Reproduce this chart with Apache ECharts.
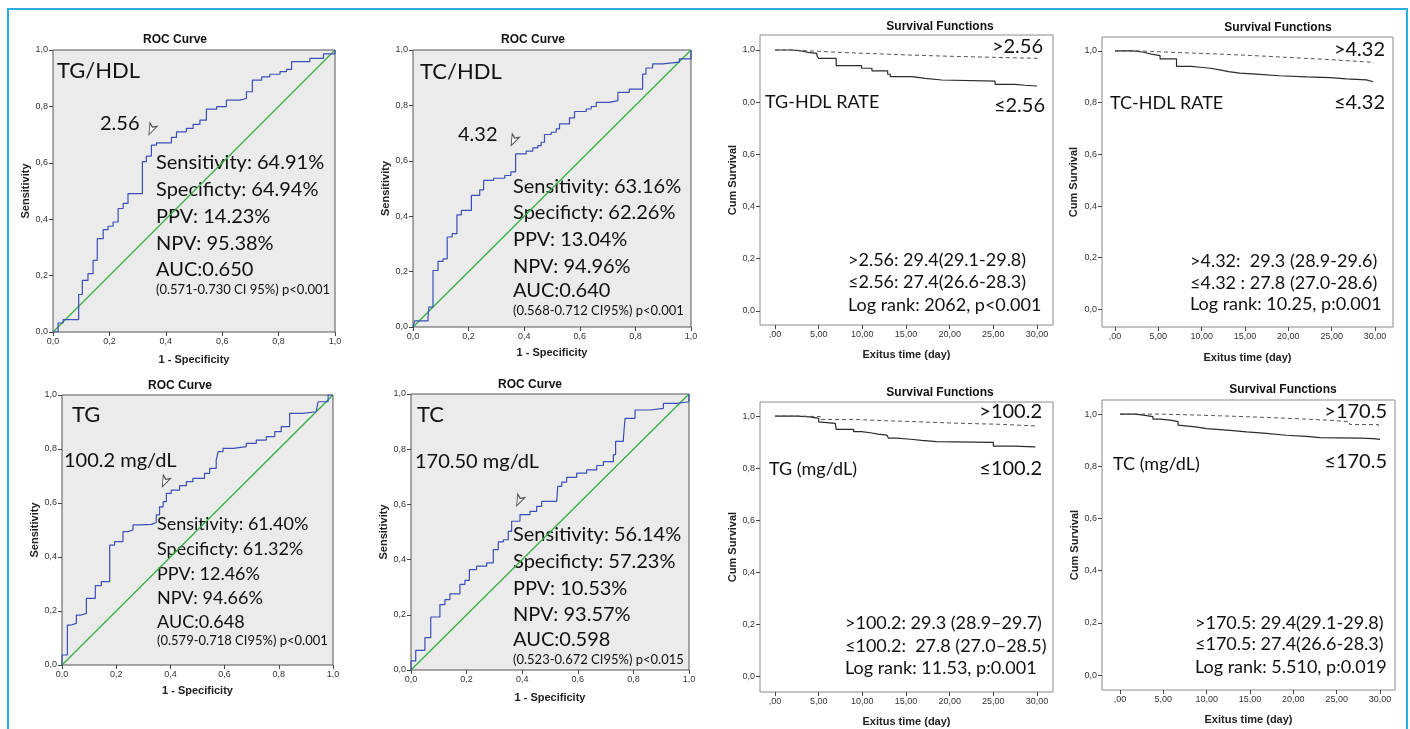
<!DOCTYPE html>
<html>
<head>
<meta charset="utf-8">
<script src="https://cdn.jsdelivr.net/npm/echarts@6/dist/echarts.min.js"></script>
<style>
html,body{margin:0;padding:0;background:#fff;}
#chart{width:1410px;height:729px;}
</style>
</head>
<body>
<div id="chart"></div>
<script>
// tick values / labels (SPSS style, decimal comma)
const rocTicks = [0, 0.2, 0.4, 0.6, 0.8, 1];
const rocTickLabels = ['0,0', '0,2', '0,4', '0,6', '0,8', '1,0'];
const survXTicks = [0, 5, 10, 15, 20, 25, 30];
const survXLabels = [',00', '5,00', '10,00', '15,00', '20,00', '25,00', '30,00'];
const survYTicks = [0, 0.2, 0.4, 0.6, 0.8, 1];
const survYLabels = ['0,0', '0,2', '0,4', '0,6', '0,8', '1,0'];
const survYLabelsTgHdl = ['0,0', '0,2', '0,4', '0,6', '0,0', '1,0']; // printed this way in the source

// ROC curves: 1 - specificity (x) and sensitivity (y)
const rocTgHdlX = [0, 0.018, 0.036, 0.091, 0.104, 0.124, 0.142, 0.157, 0.178, 0.195, 0.213, 0.231, 0.249, 0.266, 0.317, 0.331, 0.349, 0.367, 0.42, 0.438, 0.473, 0.497, 0.521, 0.544, 0.58, 0.615, 0.663, 0.686, 0.707, 0.74, 0.769, 0.805, 0.828, 0.846, 0.911, 0.959, 1];
const rocTgHdlY = [0, 0.032, 0.044, 0.133, 0.183, 0.207, 0.254, 0.331, 0.363, 0.375, 0.39, 0.438, 0.456, 0.491, 0.604, 0.624, 0.663, 0.671, 0.69, 0.71, 0.722, 0.736, 0.751, 0.79, 0.799, 0.822, 0.828, 0.852, 0.893, 0.905, 0.914, 0.923, 0.931, 0.959, 0.97, 0.986, 1];
const rocTcHdlX = [0, 0.006, 0.054, 0.057, 0.072, 0.09, 0.108, 0.123, 0.141, 0.158, 0.174, 0.21, 0.24, 0.254, 0.29, 0.33, 0.352, 0.369, 0.407, 0.431, 0.449, 0.461, 0.473, 0.497, 0.515, 0.527, 0.563, 0.581, 0.623, 0.641, 0.659, 0.707, 0.737, 0.778, 0.826, 0.838, 0.862, 0.898, 0.958, 1, 1];
const rocTcHdlY = [0, 0.022, 0.034, 0.072, 0.204, 0.237, 0.246, 0.325, 0.337, 0.405, 0.421, 0.475, 0.495, 0.529, 0.537, 0.547, 0.56, 0.625, 0.635, 0.647, 0.655, 0.667, 0.695, 0.703, 0.715, 0.733, 0.755, 0.778, 0.787, 0.796, 0.811, 0.817, 0.847, 0.859, 0.913, 0.935, 0.95, 0.956, 0.968, 0.988, 1];
const rocTgX = [0, 0, 0.02, 0.034, 0.053, 0.071, 0.09, 0.123, 0.145, 0.176, 0.194, 0.225, 0.244, 0.262, 0.287, 0.33, 0.348, 0.36, 0.373, 0.385, 0.403, 0.434, 0.459, 0.483, 0.526, 0.545, 0.569, 0.576, 0.594, 0.632, 0.68, 0.717, 0.754, 0.785, 0.809, 0.84, 0.889, 0.938, 0.945, 0.982, 1];
const rocTgY = [0, 0.037, 0.148, 0.154, 0.185, 0.191, 0.247, 0.294, 0.309, 0.444, 0.457, 0.494, 0.5, 0.519, 0.521, 0.528, 0.556, 0.586, 0.605, 0.636, 0.648, 0.664, 0.679, 0.691, 0.71, 0.728, 0.759, 0.79, 0.802, 0.809, 0.821, 0.833, 0.846, 0.864, 0.883, 0.932, 0.938, 0.944, 0.975, 1, 1];
const rocTcX = [0, 0, 0.017, 0.05, 0.071, 0.104, 0.122, 0.14, 0.176, 0.194, 0.21, 0.236, 0.272, 0.296, 0.314, 0.332, 0.35, 0.362, 0.392, 0.428, 0.452, 0.47, 0.524, 0.528, 0.542, 0.56, 0.596, 0.632, 0.668, 0.692, 0.728, 0.736, 0.764, 0.77, 0.806, 0.86, 0.908, 0.956, 1, 1];
const rocTcY = [0, 0.033, 0.071, 0.117, 0.192, 0.237, 0.255, 0.276, 0.31, 0.325, 0.364, 0.376, 0.388, 0.436, 0.464, 0.472, 0.502, 0.539, 0.563, 0.575, 0.593, 0.611, 0.617, 0.665, 0.681, 0.698, 0.713, 0.725, 0.741, 0.755, 0.78, 0.828, 0.84, 0.912, 0.942, 0.948, 0.966, 0.972, 0.982, 1];
// cut-off markers [x, y]
const cutTgHdl = [0.34, 0.70];
const cutTcHdl = [0.353, 0.655];
const cutTg = [0.37, 0.66];
const cutTc = [0.38, 0.595];

// Kaplan-Meier: time (day) and cumulative survival
const kmTgHdlLowT = [0, 1.9, 2.9, 3.8, 4.8, 5.0, 7.0, 9.9, 11.1, 12.9, 13.2, 15.7, 17.2, 19.1, 25.2, 27.5, 28.6, 30];
const kmTgHdlLowS = [1, 0.997, 0.991, 0.987, 0.977, 0.968, 0.94, 0.93, 0.92, 0.907, 0.898, 0.891, 0.885, 0.881, 0.868, 0.865, 0.862, 0.862];
const kmTgHdlHighT = [0, 2.2, 3, 5, 8, 12, 16, 20, 25, 30];
const kmTgHdlHighS = [1, 0.998, 0.995, 0.99, 0.985, 0.98, 0.976, 0.972, 0.968, 0.964];
const kmTcHdlLowT = [0, 2.1, 3.3, 4.2, 5.2, 7.1, 8.8, 9.8, 11, 12.1, 13.1, 14.4, 16.3, 19, 22.1, 24.8, 26.7, 29, 29.8];
const kmTcHdlLowS = [1, 0.995, 0.988, 0.982, 0.969, 0.94, 0.937, 0.933, 0.927, 0.92, 0.914, 0.91, 0.904, 0.9, 0.897, 0.892, 0.888, 0.881, 0.881];
const kmTcHdlHighT = [0, 3, 5, 8, 12, 16, 20, 24, 27, 29.8];
const kmTcHdlHighS = [1, 0.997, 0.993, 0.988, 0.982, 0.975, 0.968, 0.962, 0.956, 0.952];
const kmTgLowT = [0, 2.5, 4.0, 5.0, 5.2, 6.9, 7.0, 9.0, 9.9, 10.9, 11.8, 12.8, 13.0, 13.9, 15.5, 16.8, 18.5, 25.0, 27.3, 29.8];
const kmTgLowS = [1, 0.997, 0.991, 0.978, 0.972, 0.966, 0.949, 0.94, 0.936, 0.931, 0.927, 0.921, 0.915, 0.911, 0.907, 0.902, 0.899, 0.885, 0.882, 0.88];
const kmTgHighT = [0, 2.5, 5.2, 9, 12.8, 16.5, 20.4, 26.2, 29.8];
const kmTgHighS = [1, 0.998, 0.987, 0.982, 0.978, 0.973, 0.968, 0.962, 0.953];
const kmTcLowT = [0, 1.7, 2.7, 3.8, 4.6, 5.8, 6.7, 6.9, 8.7, 10, 12.7, 14.6, 16.9, 19.2, 21.5, 23.1, 27.7, 29.2, 30];
const kmTcLowS = [1, 0.996, 0.99, 0.981, 0.977, 0.971, 0.958, 0.951, 0.944, 0.938, 0.932, 0.926, 0.919, 0.915, 0.91, 0.908, 0.906, 0.903, 0.903];
const kmTcHighT = [0, 1.9, 4.6, 9.2, 14.6, 20, 23.8, 26.5, 29.8];
const kmTcHighS = [1, 1, 0.996, 0.99, 0.983, 0.977, 0.971, 0.96, 0.941];

// annotation texts
const rocStatsTgHdl = ['Sensitivity: 64.91%', 'Specificty: 64.94%', 'PPV: 14.23%', 'NPV: 95.38%', 'AUC:0.650', '(0.571-0.730 CI 95%) p<0.001'];
const rocStatsTcHdl = ['Sensitivity: 63.16%', 'Specificty: 62.26%', 'PPV: 13.04%', 'NPV: 94.96%', 'AUC:0.640', '(0.568-0.712 CI95%) p<0.001'];
const rocStatsTg = ['Sensitivity: 61.40%', 'Specificty: 61.32%', 'PPV: 12.46%', 'NPV: 94.66%', 'AUC:0.648', '(0.579-0.718 CI95%) p<0.001'];
const rocStatsTc = ['Sensitivity: 56.14%', 'Specificty: 57.23%', 'PPV: 10.53%', 'NPV: 93.57%', 'AUC:0.598', '(0.523-0.672 CI95%) p<0.015'];
const kmStatsTgHdl = ['>2.56: 29.4(29.1-29.8)', '\u22642.56: 27.4(26.6-28.3)', 'Log rank: 2062, p<0.001'];
const kmStatsTcHdl = ['>4.32:  29.3 (28.9-29.6)', '\u22644.32 : 27.8 (27.0-28.6)', 'Log rank: 10.25, p:0.001'];
const kmStatsTg = ['>100.2: 29.3 (28.9\u201329.7)', '\u2264100.2:  27.8 (27.0\u201328.5)', 'Log rank: 11.53, p:0.001'];
const kmStatsTc = ['>170.5: 29.4(29.1-29.8)', '\u2264170.5: 27.4(26.6-28.3)', 'Log rank: 5.510, p:0.019'];

const zip = (a, b) => a.map((v, i) => [v, b[i]]);
const lab = (ticks, labels) => v => {
  const i = ticks.findIndex(t => Math.abs(t - v) < 1e-6);
  return i < 0 ? '' : labels[i];
};

const ANN = 'Lato, "Open Sans", sans-serif';
const SPSS = '"Liberation Sans", Arial, sans-serif';

const panels = [
  { kind: 'roc', grid: { left: 53, top: 50, width: 282, height: 282 }, xGap: 22, yGap: 20, title: [175, 40],
    x: rocTgHdlX, y: rocTgHdlY, cut: cutTgHdl,
    name: ['TG/HDL', 57, 71], cutLabel: ['2.56', 100, 124], stats: rocStatsTgHdl, sx: 156, sy: [163, 190, 217, 244, 270, 290], fs: 20 },
  { kind: 'roc', grid: { left: 413, top: 50, width: 278, height: 277 }, xGap: 20, yGap: 22, title: [533, 40],
    x: rocTcHdlX, y: rocTcHdlY, cut: cutTcHdl,
    name: ['TC/HDL', 420, 72], cutLabel: ['4.32', 458, 135], stats: rocStatsTcHdl, sx: 513, sy: [187, 213, 240, 267, 291, 311], fs: 20 },
  { kind: 'roc', grid: { left: 62, top: 395, width: 271, height: 270 }, xGap: 20, yGap: 20, title: [180, 386],
    x: rocTgX, y: rocTgY, cut: cutTg,
    name: ['TG', 72, 415], cutLabel: ['100.2 mg/dL', 64, 461], stats: rocStatsTg, sx: 157, sy: [524, 549, 574, 598, 622, 641], fs: 18 },
  { kind: 'roc', grid: { left: 411, top: 394, width: 278, height: 276 }, xGap: 22, yGap: 22, title: [530, 385],
    x: rocTcX, y: rocTcY, cut: cutTc,
    name: ['TC', 417, 415], cutLabel: ['170.50 mg/dL', 415, 462], stats: rocStatsTc, sx: 513, sy: [535, 562, 589, 615, 640, 660], fs: 20 },
  { kind: 'km', grid: { left: 760, top: 35, width: 293, height: 290 }, xr: [-1.72, 31.83], yr: [-0.054, 1.0575], xGap: 24, yGap: 21, title: [940, 27],
    low: zip(kmTgHdlLowT, kmTgHdlLowS), high: zip(kmTgHdlHighT, kmTgHdlHighS), yLabels: survYLabelsTgHdl,
    hi: ['>2.56', 1043, 47], lo: ['\u22642.56', 1045, 106], name: ['TG-HDL RATE', 765, 102], stats: kmStatsTgHdl, sx: 848, sy: [260, 282, 305] },
  { kind: 'km', grid: { left: 1102, top: 37, width: 291, height: 290 }, xr: [-1.5, 32.08], yr: [-0.068, 1.054], xGap: 25, yGap: 23, title: [1278, 28],
    low: zip(kmTcHdlLowT, kmTcHdlLowS), high: zip(kmTcHdlHighT, kmTcHdlHighS), yLabels: survYLabels,
    hi: ['>4.32', 1385, 50], lo: ['\u22644.32', 1385, 103], name: ['TC-HDL RATE', 1110, 103], stats: kmStatsTcHdl, sx: 1190, sy: [261, 283, 304] },
  { kind: 'km', grid: { left: 760, top: 402, width: 293, height: 290 }, xr: [-1.72, 31.83], yr: [-0.059, 1.054], xGap: 24, yGap: 21, title: [940, 393],
    low: zip(kmTgLowT, kmTgLowS), high: zip(kmTgHighT, kmTgHighS), yLabels: survYLabels,
    hi: ['>100.2', 1042, 412], lo: ['\u2264100.2', 1042, 469], name: ['TG (mg/dL)', 769, 469], stats: kmStatsTg, sx: 845, sy: [623, 646, 668] },
  { kind: 'km', grid: { left: 1102, top: 400, width: 293, height: 290 }, xr: [-2.08, 31.73], yr: [-0.057, 1.054], xGap: 24, yGap: 21, title: [1283, 390],
    low: zip(kmTcLowT, kmTcLowS), high: zip(kmTcHighT, kmTcHighS), yLabels: survYLabels,
    hi: ['>170.5', 1387, 412], lo: ['\u2264170.5', 1387, 462], name: ['TC (mg/dL)', 1113, 464], stats: kmStatsTc, sx: 1195, sy: [623, 644, 667] }
];

function txt(s, x, y, size, align, font, weight) {
  return {
    type: 'text', x: x, y: y, silent: true,
    style: {
      text: s, fontSize: size, fontFamily: font || ANN, fontWeight: weight || 'normal', fill: '#111',
      align: align || 'left', verticalAlign: 'middle', textAlign: align || 'left', textVerticalAlign: 'middle'
    }
  };
}

const nameStyle = { fontFamily: SPSS, fontWeight: 'bold', fontSize: 11, color: '#222' };
const tickLabel = { fontFamily: SPSS, fontSize: 9, color: '#333', margin: 5 };

const grids = [], xAxes = [], yAxes = [], series = [], graphics = [];

graphics.push({ type: 'rect', silent: true, shape: { x: 8, y: 9, width: 1399, height: 760 },
  style: { fill: 'none', stroke: '#2eaee0', lineWidth: 2 } });

panels.forEach((p, i) => {
  const isRoc = p.kind === 'roc';
  grids.push(Object.assign({ show: true, borderWidth: 1, borderColor: isRoc ? '#555' : '#8a8a8a',
    backgroundColor: isRoc ? '#ebebeb' : '#fff' }, p.grid));
  const xt = isRoc ? rocTicks : survXTicks, xl = isRoc ? rocTickLabels : survXLabels;
  const yt = isRoc ? rocTicks : survYTicks, yl = isRoc ? rocTickLabels : p.yLabels;
  xAxes.push({
    gridIndex: i, type: 'value', min: isRoc ? 0 : p.xr[0], max: isRoc ? 1 : p.xr[1],
    name: isRoc ? '1 - Specificity' : 'Exitus time (day)', nameLocation: 'middle', nameGap: p.xGap, nameTextStyle: nameStyle,
    axisLine: { show: false, onZero: false },
    axisTick: { show: true, length: 4, customValues: xt, lineStyle: { color: '#444' } },
    axisLabel: Object.assign({ customValues: xt, formatter: lab(xt, xl) }, tickLabel),
    splitLine: { show: false }
  });
  yAxes.push({
    gridIndex: i, type: 'value', min: isRoc ? 0 : p.yr[0], max: isRoc ? 1 : p.yr[1],
    name: isRoc ? 'Sensitivity' : 'Cum Survival', nameLocation: 'middle', nameGap: p.yGap, nameTextStyle: nameStyle,
    axisLine: { show: false, onZero: false },
    axisTick: { show: true, length: 4, customValues: yt, lineStyle: { color: '#444' } },
    axisLabel: Object.assign({ customValues: yt, formatter: lab(yt, yl) }, tickLabel),
    splitLine: { show: false }
  });
  graphics.push(txt(isRoc ? 'ROC Curve' : 'Survival Functions', p.title[0], p.title[1], 12, 'center', SPSS, 'bold'));

  if (isRoc) {
    series.push({ type: 'line', xAxisIndex: i, yAxisIndex: i, data: [[0, 0], [1, 1]], symbol: 'none', silent: true,
      lineStyle: { color: '#35b041', width: 1.3 } });
    series.push({ type: 'line', xAxisIndex: i, yAxisIndex: i, step: 'end', data: zip(p.x, p.y), symbol: 'none', silent: true,
      lineStyle: { color: '#3b4fb8', width: 1.2 } });
    series.push({ type: 'scatter', xAxisIndex: i, yAxisIndex: i, data: [p.cut], symbol: 'arrow', symbolSize: [6, 11],
      symbolRotate: 155, silent: true, itemStyle: { color: '#fff', borderColor: '#222', borderWidth: 1 } });
    graphics.push(txt(p.name[0], p.name[1], p.name[2], 22, 'left'));
    graphics.push(txt(p.cutLabel[0], p.cutLabel[1], p.cutLabel[2], 20, 'left'));
    p.stats.forEach((s, k) => graphics.push(txt(s, p.sx, p.sy[k], k < 5 ? p.fs : 13, 'left')));
  } else {
    series.push({ type: 'line', xAxisIndex: i, yAxisIndex: i, step: 'end', data: p.low, symbol: 'none', silent: true,
      lineStyle: { color: '#2a2a2a', width: 1.2 } });
    series.push({ type: 'line', xAxisIndex: i, yAxisIndex: i, step: 'end', data: p.high, symbol: 'none', silent: true,
      lineStyle: { color: '#555', width: 1, type: [4, 3] } });
    graphics.push(txt(p.hi[0], p.hi[1], p.hi[2], 20, 'right'));
    graphics.push(txt(p.lo[0], p.lo[1], p.lo[2], 20, 'right'));
    graphics.push(txt(p.name[0], p.name[1], p.name[2], 18, 'left'));
    p.stats.forEach((s, k) => graphics.push(txt(s, p.sx, p.sy[k], 18, 'left')));
  }
});

const chart = echarts.init(document.getElementById('chart'));
chart.setOption({
  animation: false,
  backgroundColor: '#fff',
  grid: grids,
  xAxis: xAxes,
  yAxis: yAxes,
  series: series,
  graphic: { elements: graphics }
});
</script>
</body>
</html>
